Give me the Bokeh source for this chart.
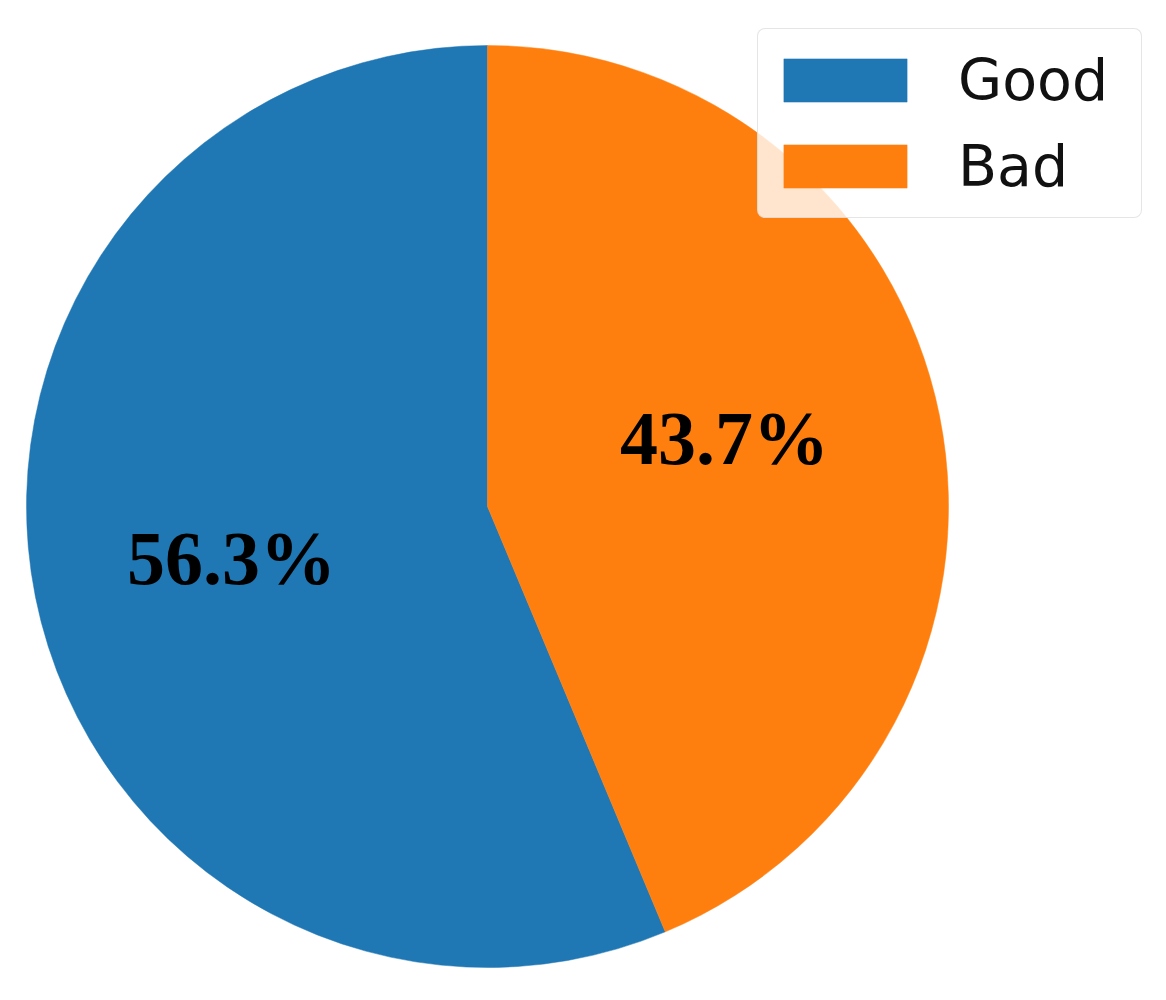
import math
from bokeh.plotting import figure
from bokeh.models import Range1d, Legend, LegendItem
from bokeh.core.properties import value
from bokeh.embed import file_html
from bokeh.resources import INLINE

# Data
categories = ["Good", "Bad"]
percentages = [56.3, 43.7]
colors = ["#1f77b4", "#ff7f0e"]
label_texts = ["56.3%", "43.7%"]

# Geometry (unit circle, 1 unit = 461 px)
R = 461.0
cx_img, cy_img = 487.0, 506.0
W, H = 1150, 984

x0 = (0 - cx_img) / R
x1 = (W - cx_img) / R
y1 = (cy_img - 0) / R
y0 = (cy_img - H) / R

p = figure(width=W, height=H, output_backend="svg", toolbar_location=None,
           x_range=Range1d(x0, x1), y_range=Range1d(y0, y1),
           min_border=0, border_fill_color="white")
p.axis.visible = False
p.grid.visible = False
p.outline_line_color = None

# wedges: start at 90 deg, counterclockwise
total = sum(percentages)
starts, ends = [], []
a = math.pi / 2
for v in percentages:
    starts.append(a)
    a += 2 * math.pi * v / total
    ends.append(a)

renderers = []
for i in range(len(categories)):
    r = p.wedge(x=0, y=0, radius=1.0, start_angle=starts[i], end_angle=ends[i],
                fill_color=colors[i], line_color=colors[i], line_width=0.5)
    renderers.append(r)

# labels (positions as observed)
lab_x = [(231 - cx_img) / R, (724 - cx_img) / R]
lab_y = [(cy_img - 557) / R, (cy_img - 437) / R]
p.text(x=lab_x, y=lab_y, text=label_texts, text_font=value("Liberation Serif"),
       text_font_style="bold", text_font_size="76px", text_color="black",
       text_align="center", text_baseline="middle")

legend = Legend(items=[LegendItem(label=categories[i], renderers=[renderers[i]]) for i in range(len(categories))],
                location=(757, H - 218))
legend.label_text_font = "DejaVu Sans"
legend.label_text_font_size = "57px"
legend.label_text_color = "#111111"
legend.glyph_width = 154
legend.glyph_height = 54
legend.label_standoff = 36
legend.label_width = 173
legend.label_height = 82
legend.padding = 10
legend.spacing = 4
legend.margin = 0
legend.border_line_color = "#cccccc"
legend.border_line_width = 1.5
legend.background_fill_color = "white"
legend.background_fill_alpha = 0.8
if "border_radius" in Legend.properties():
    legend.border_radius = 8
p.add_layout(legend)

open("out.html", "w").write(file_html(p, INLINE))
